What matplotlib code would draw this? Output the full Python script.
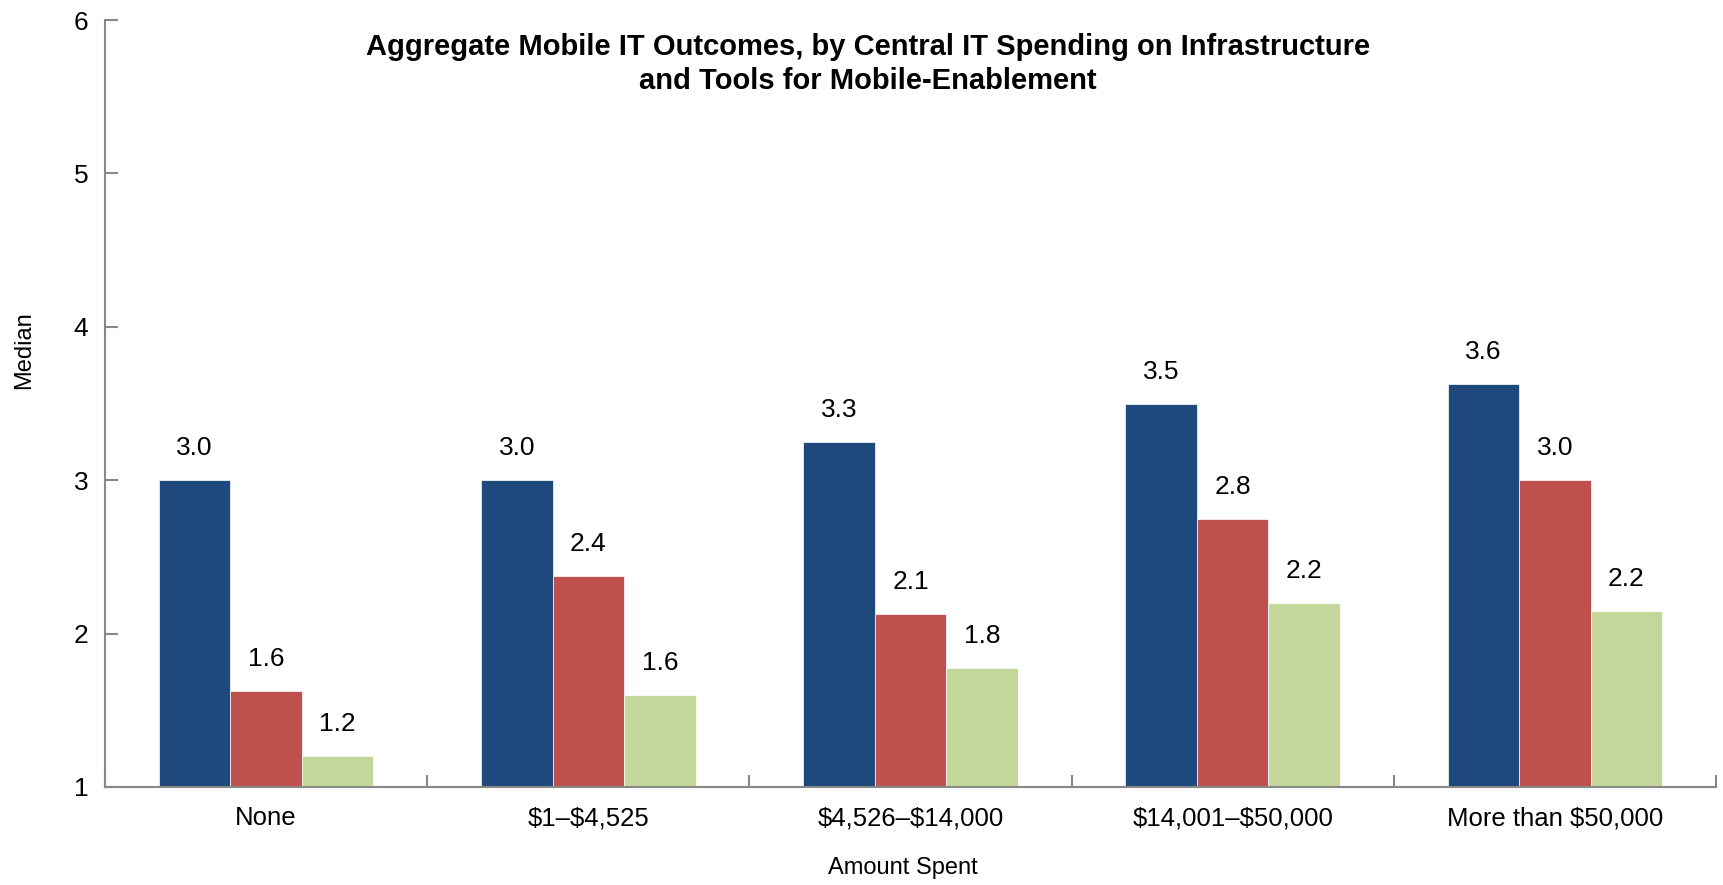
import numpy as np
import matplotlib.pyplot as plt
from matplotlib import font_manager

# condensed font if available
names = set(f.name for f in font_manager.fontManager.ttflist)
fam = 'Liberation Sans Narrow' if 'Liberation Sans Narrow' in names else 'Liberation Sans'
plt.rcParams['font.family'] = [fam, 'DejaVu Sans']
plt.rcParams['text.parse_math'] = False

categories = ['None', '$1–$4,525', '$4,526–$14,000', '$14,001–$50,000', 'More than $50,000']
series1 = [3.0, 3.0, 3.25, 3.5, 3.625]
series2 = [1.625, 2.375, 2.125, 2.75, 3.0]
series3 = [1.2, 1.6, 1.775, 2.2, 2.15]
labels1 = ['3.0', '3.0', '3.3', '3.5', '3.6']
labels2 = ['1.6', '2.4', '2.1', '2.8', '3.0']
labels3 = ['1.2', '1.6', '1.8', '2.2', '2.2']
colors = ['#1F497D', '#C0504D', '#C4D79B']

fig = plt.figure(figsize=(17.23, 8.85), dpi=100)
ax = fig.add_axes([105/1723, 1-787/885, (1716-105)/1723, (787-20)/885])

x = np.arange(len(categories))
w = 0.222
base = 1
for i, (vals, labs) in enumerate(zip([series1, series2, series3], [labels1, labels2, labels3])):
    pos = x + (i-1)*w
    ax.bar(pos, np.array(vals)-base, w, bottom=base, color=colors[i], edgecolor='white', linewidth=0.5)
    for p, v, l in zip(pos, vals, labs):
        ax.annotate(l, (p, v), xytext=(0, 23), textcoords='offset points',
                    ha='center', va='center', fontsize=19)

ax.set_xlim(-0.5, 4.5)
ax.set_ylim(1, 6)
ax.set_yticks([1, 2, 3, 4, 5, 6])
ax.set_xticks(x)
ax.set_xticklabels(categories, fontsize=18.5)
ax.set_xticks(np.arange(-0.5, 5, 1), minor=True)
ax.tick_params(axis='x', which='major', length=0, pad=14)
ax.tick_params(axis='x', which='minor', direction='in', length=9, color='#888888', width=1.5)
ax.tick_params(axis='y', direction='in', length=9, color='#888888', width=1.5, labelsize=19, pad=12)

for s in ['top', 'right']:
    ax.spines[s].set_visible(False)
for s in ['left', 'bottom']:
    ax.spines[s].set_color('#888888')
    ax.spines[s].set_linewidth(1.5)

fig.text(24/1723, 1-350/885, 'Median', rotation=90, ha='center', va='center', fontsize=17)
fig.text(903/1723, 1-868/885, 'Amount Spent', ha='center', va='center', fontsize=17)
fig.text(868/1723, 1-64/885,
         'Aggregate Mobile IT Outcomes, by Central IT Spending on Infrastructure\nand Tools for Mobile-Enablement',
         ha='center', va='center', fontsize=21, fontweight='bold', linespacing=1.3)

fig.savefig('out.png', dpi=100)
